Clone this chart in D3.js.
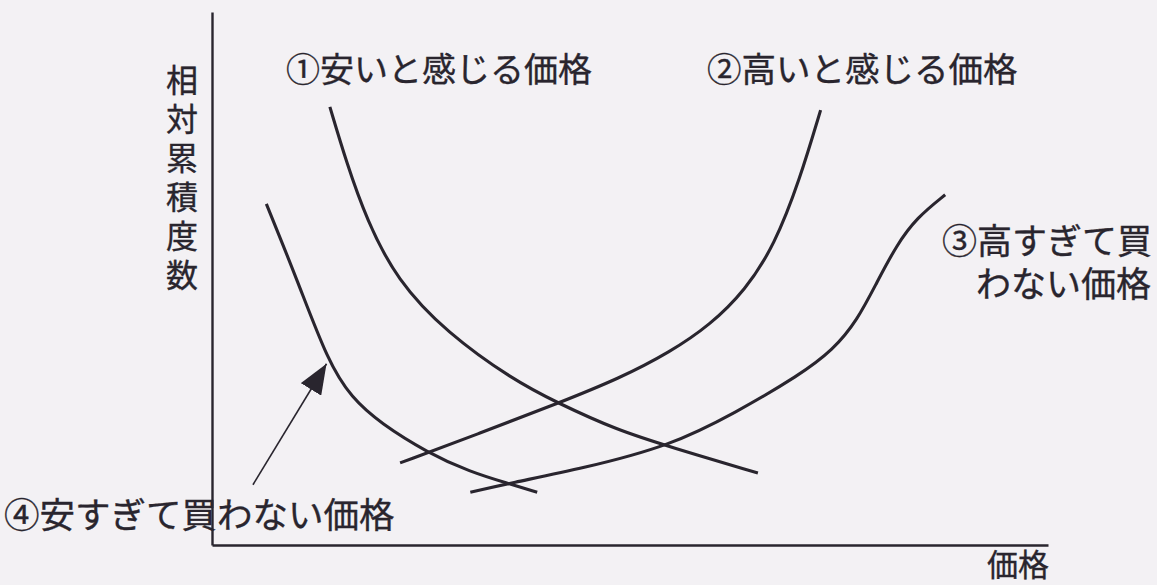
<!DOCTYPE html>
<html>
<head>
<meta charset="utf-8">
<script src="https://cdn.jsdelivr.net/npm/d3@7"></script>
<style>
  html, body { margin: 0; padding: 0; background: #f3f1f4; }
  svg { display: block; }
</style>
</head>
<body>
<div id="chart"></div>
<script>
// curve data: [price, relative cumulative frequency], both 0-100
var cheapPts = [[14.1, 82.2], [16.1, 71.7], [18.5, 61.0], [22.1, 49.7], [28.1, 39.8],
                [36.0, 31.0], [41.4, 26.6], [48.4, 21.6], [54.8, 18.4], [65.3, 13.5]];
var expensivePts = [[22.5, 15.4], [32.1, 21.0], [41.4, 26.6], [48.8, 31.3], [54.8, 36.2],
                    [59.6, 41.3], [63.8, 47.8], [67.3, 56.3], [70.3, 68.5], [72.8, 81.6]];
var tooExpensivePts = [[30.9, 9.9], [35.6, 11.6], [44.4, 14.4], [54.8, 18.6], [62.6, 24.8],
                       [70.3, 31.9], [74.3, 36.6], [77.2, 42.2], [79.5, 49.2], [81.9, 56.3],
                       [84.3, 61.4], [87.7, 65.7]];
var tooCheapPts = [[6.5, 64.0], [10.2, 49.7], [13.9, 34.3], [16.7, 27.6], [20.1, 22.9],
                   [25.8, 17.3], [30.9, 13.7], [35.3, 11.6], [38.9, 9.9]];
// arrow pointing at the "too cheap" curve
var arrowPts = [[4.9, 11.3], [13.7, 34.0]];

var label1 = "①安いと感じる価格";
var label2 = "②高いと感じる価格";
var label3 = ["③高すぎて買", "わない価格"];
var label4 = "④安すぎて買わない価格";
var xTitle = "価格";
var yTitle = "相対累積度数";

var width = 1157, height = 585;
var ink = "#29252e";
var font = "'Noto Sans CJK JP', 'Noto Sans', sans-serif";

var svg = d3.select("#chart").append("svg")
    .attr("width", width)
    .attr("height", height);

var x = d3.scaleLinear().domain([0, 100]).range([212, 1048]);
var y = d3.scaleLinear().domain([0, 100]).range([545, 12]);

// axes without ticks, just the two lines
svg.append("g")
    .attr("transform", "translate(0," + y(0) + ")")
    .call(d3.axisBottom(x).tickValues([]).tickSizeOuter(0))
    .select(".domain").attr("stroke", ink).attr("stroke-width", 2.6);
svg.append("g")
    .attr("transform", "translate(" + x(0) + ",0)")
    .call(d3.axisLeft(y).tickValues([]).tickSizeOuter(0))
    .select(".domain").attr("stroke", ink).attr("stroke-width", 2.4);

var line = d3.line()
    .x(d => x(d[0]))
    .y(d => y(d[1]))
    .curve(d3.curveBasis);

svg.selectAll("path.curve")
    .data([cheapPts, expensivePts, tooExpensivePts, tooCheapPts])
    .enter()
    .append("path")
    .attr("class", "curve")
    .attr("d", line)
    .attr("fill", "none")
    .attr("stroke", ink)
    .attr("stroke-width", 3.1);

// arrow head marker
svg.append("defs").append("marker")
    .attr("id", "head")
    .attr("markerUnits", "userSpaceOnUse")
    .attr("viewBox", "0 0 30 24")
    .attr("refX", 30)
    .attr("refY", 12)
    .attr("markerWidth", 30)
    .attr("markerHeight", 24)
    .attr("orient", "auto")
    .append("path")
    .attr("d", "M0,0 L30,12 L0,24 Z")
    .attr("fill", ink);

svg.append("path")
    .attr("d", d3.line().x(d => x(d[0])).y(d => y(d[1]))(arrowPts))
    .attr("stroke", ink)
    .attr("stroke-width", 1.6)
    .attr("fill", "none")
    .attr("marker-end", "url(#head)");

// labels
function addText(str, px, py, size, anchor) {
    return svg.append("text")
        .attr("x", px)
        .attr("y", py)
        .attr("font-family", font)
        .attr("font-size", size)
        .attr("fill", ink)
        .attr("stroke", ink)
        .attr("stroke-width", 0.35)
        .attr("text-anchor", anchor || "start")
        .text(str);
}
addText(label1, 286, 82, 34);
addText(label2, 707, 82, 34.5);
addText(label3[0], 942, 254, 35);
addText(label3[1], 976, 297, 35);
addText(label4, 4, 528, 35.5);
addText(xTitle, 1049, 576, 31, "end");

// vertical y title, one character per row
yTitle.split("").forEach(function (c, i) {
    addText(c, 182, 92 + i * 39, 32, "middle");
});
</script>
</body>
</html>
